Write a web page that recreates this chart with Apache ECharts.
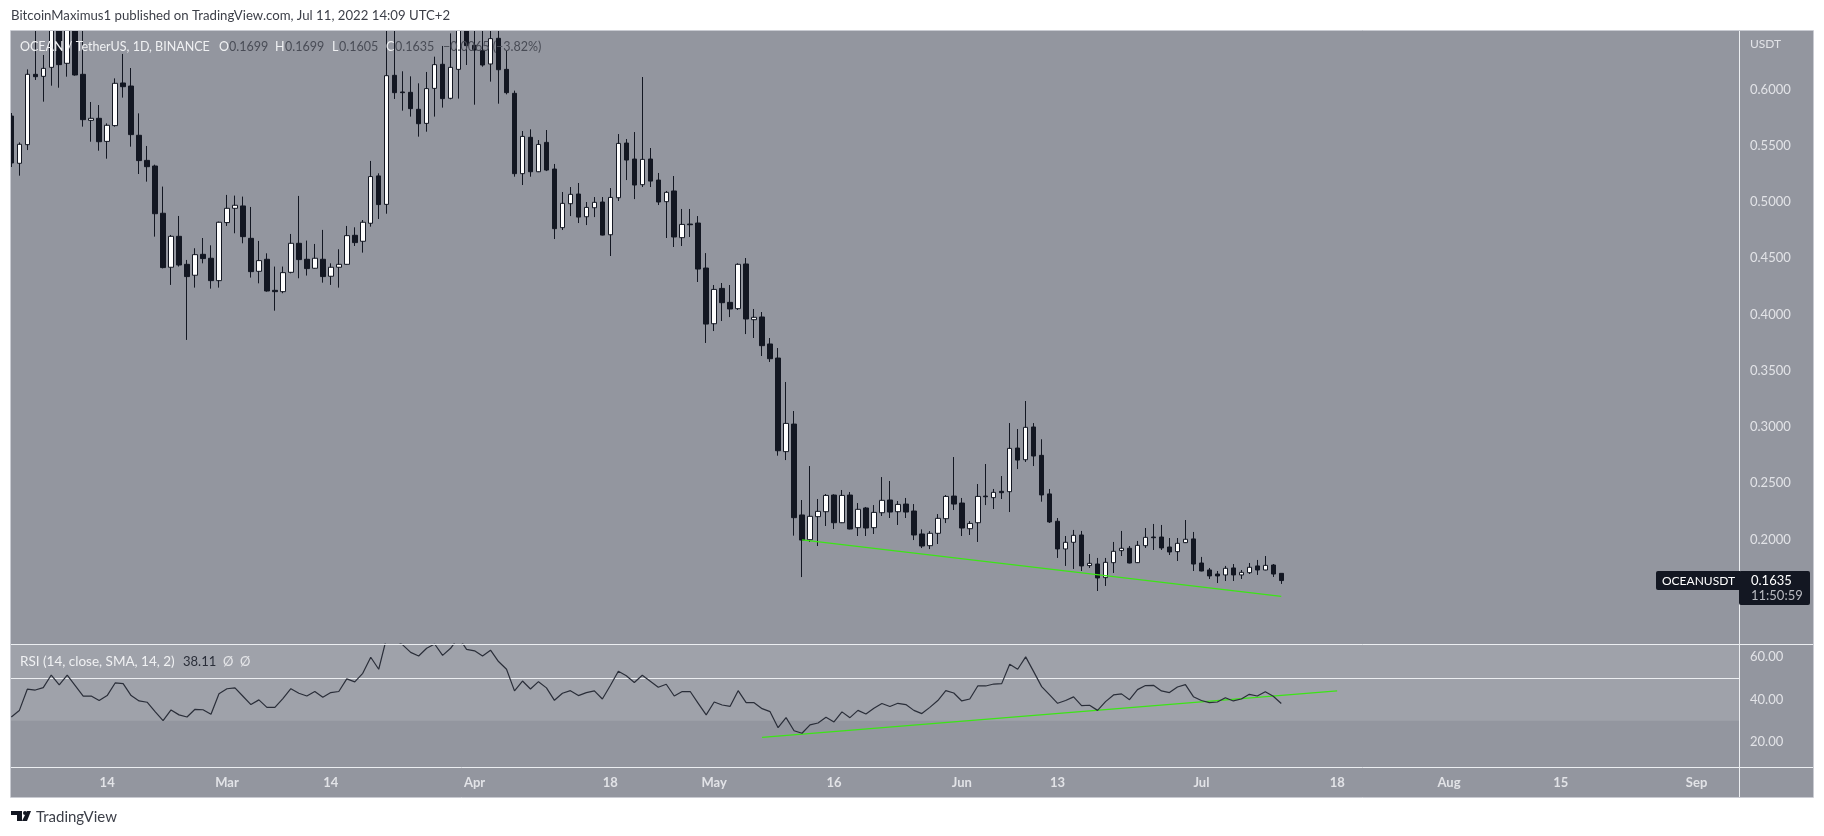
<!DOCTYPE html>
<html>

<head>
    <title>OCEANUSDT</title>
    <meta charset="utf-8">
    <script src="https://cdn.jsdelivr.net/npm/echarts@6/dist/echarts.min.js"></script>
    <style>
        html, body { margin: 0; padding: 0; background: #fff; }
    </style>
</head>

<body>
    <div id="main" style="width: 1824px;height:836px;"></div>

    <script type="text/javascript">
        // daily candles, first one is Feb 2 2022, last one Jul 11 2022
        var startDate = '2022-02-02';
        var opens = [
            .5764, .5344, .5510, .6135, .6117, .6197, .6640, .6233, .6700, .6135,
            .5726, .5744, .5539, .5679, .6058, .6031, .5593, .5370, .5320, .4900,
            .4420, .4695, .4446, .4349, .4535, .4500, .4301, .4817, .4944, .4965,
            .4677, .4384, .4491, .4215, .4203, .4375, .4633, .4491, .4411, .4491,
            .4340, .4420, .4446, .4704, .4651, .4811, .5232, .4979, .6126, .5978,
            .5975, .5824, .5699, .6010, .6224, .5922, .6179, .6560, .6393, .6345,
            .6227, .6455, .6179, .5966, .5252, .5575, .5269, .5530, .5293, .4772,
            .4985, .5071, .4869, .4949, .5000, .4709, .5038, .5524, .5382, .5154,
            .5382, .5195, .5003, .5098, .4683, .4804, .4813, .4413, .3918, .4232,
            .4108, .4052, .4449, .3954, .3978, .3738, .3613, .2781, .3026, .2218,
            .1998, .2203, .2247, .2395, .2149, .2395, .2105, .2280, .2105, .2238,
            .2351, .2247, .2315, .2253, .2049, .1945, .2055, .2185, .2386, .2324,
            .2096, .2149, .2386, .2372, .2428, .2425, .2813, .2709, .3000, .2748,
            .2405, .2162, .1916, .1975, .2040, .1768, .1782, .1661, .1794, .1901,
            .1922, .1794, .1945, .2022, .2022, .1933, .1892, .1972, .2005, .1791,
            .1729, .1693, .1685, .1747, .1685, .1705, .1765, .1729, .1773, .1699
        ];
        var closes = [
            .5347, .5513, .6135, .6114, .6188, .6640, .6221, .6700, .6129, .5732,
            .5744, .5536, .5682, .6055, .6025, .5599, .5368, .5314, .4896, .4417,
            .4695, .4440, .4337, .4532, .4497, .4301, .4820, .4944, .4971, .4692,
            .4381, .4479, .4209, .4203, .4372, .4633, .4488, .4408, .4500, .4337,
            .4420, .4446, .4701, .4639, .4820, .5226, .4977, .6123, .5972, .5972,
            .5830, .5696, .6008, .6221, .5919, .6197, .6600, .6390, .6351, .6218,
            .6452, .6176, .5972, .5252, .5583, .5269, .5512, .5284, .4763, .4988,
            .5068, .4866, .4952, .4997, .4706, .5041, .5521, .5373, .5151, .5379,
            .5186, .5000, .5086, .4689, .4801, .4798, .4404, .3915, .4223, .4105,
            .4049, .4446, .3960, .3975, .3723, .3607, .2789, .3032, .2194, .1995,
            .2206, .2250, .2392, .2149, .2392, .2093, .2268, .2102, .2241, .2348,
            .2244, .2312, .2244, .2040, .1942, .2055, .2188, .2383, .2315, .2102,
            .2143, .2383, .2380, .2419, .2416, .2810, .2706, .2997, .2742, .2396,
            .2156, .1916, .1975, .2037, .1765, .1788, .1658, .1797, .1895, .1922,
            .1791, .1948, .2019, .2016, .1925, .1889, .1966, .2002, .1782, .1720,
            .1676, .1676, .1744, .1685, .1708, .1753, .1729, .1770, .1693, .1635
        ];
        var highs = [
            .5791, .5530, .6179, .6618, .6307, .6700, .6750, .6800, .6780, .6600,
            .5889, .5862, .5699, .6099, .6316, .6191, .5788, .5498, .5332, .5137,
            .4707, .4876, .4485, .4589, .4680, .4615, .4826, .5063, .5057, .5048,
            .4956, .4654, .4544, .4426, .4426, .4716, .5054, .4657, .4627, .4752,
            .4455, .4580, .4787, .4775, .4840, .5365, .5255, .6620, .6640, .6162,
            .6117, .6055, .6156, .6292, .6387, .6499, .6700, .6660, .6620, .6580,
            .6540, .6540, .6351, .5990, .5631, .5646, .5551, .5640, .5338, .5089,
            .5133, .5169, .5000, .5044, .5044, .5124, .5604, .5560, .5622, .6111,
            .5480, .5258, .5098, .5231, .4938, .4938, .4875, .4546, .4262, .4280,
            .4262, .4455, .4502, .4049, .4022, .3791, .3702, .3400, .3142, .2351,
            .2653, .2360, .2404, .2402, .2440, .2422, .2324, .2289, .2306, .2555,
            .2520, .2342, .2369, .2315, .2090, .2075, .2226, .2395, .2733, .2369,
            .2164, .2493, .2671, .2449, .2564, .3035, .2982, .3231, .3035, .2891,
            .2449, .2191, .2031, .2085, .2076, .1871, .1836, .1836, .1978, .2076,
            .1942, .1987, .2102, .2138, .2129, .2013, .2013, .2173, .2067, .1845,
            .1747, .1720, .1765, .1782, .1729, .1791, .1818, .1853, .1782, .1699
        ];
        var lows = [
            .5311, .5234, .5462, .6085, .5892, .6034, .6016, .6114, .6123, .5670,
            .5536, .5456, .5385, .5670, .5928, .5492, .5249, .5181, .4692, .4410,
            .4263, .4426, .3774, .4239, .4455, .4230, .4239, .4787, .4722, .4633,
            .4328, .4277, .4203, .4034, .4189, .4366, .4322, .4346, .4408, .4283,
            .4263, .4239, .4443, .4609, .4550, .4781, .4849, .4896, .5916, .5812,
            .5759, .5581, .5625, .5759, .5839, .5913, .5919, .6218, .5865, .6203,
            .6070, .5874, .5957, .5225, .5151, .5225, .5266, .5275, .4671, .4751,
            .4875, .4813, .4795, .4866, .4703, .4520, .5009, .5195, .5026, .5133,
            .5133, .4973, .4680, .4600, .4609, .4689, .4289, .3747, .3853, .3942,
            .3977, .4040, .3826, .3791, .3631, .3578, .2745, .2706, .2034, .1666,
            .1978, .1942, .2120, .2093, .2146, .2090, .2031, .2031, .2049, .2209,
            .2191, .2129, .2191, .1995, .1924, .1915, .1960, .2146, .2262, .2031,
            .2040, .1978, .2306, .2271, .2360, .2244, .2626, .2689, .2653, .2336,
            .2147, .1836, .1765, .1738, .1720, .1747, .1542, .1587, .1702, .1853,
            .1788, .1791, .1925, .1907, .1907, .1862, .1809, .1969, .1720, .1717,
            .1649, .1613, .1631, .1631, .1649, .1693, .1685, .1726, .1667, .1605
        ];
        var rsi = [
            31.8, 34.8, 44.8, 44.4, 45.5, 51.4, 46.8, 51.4, 46.5, 41.6,
            41.6, 39.5, 41.8, 47.7, 47.4, 41.8, 39.3, 38.7, 34.3, 30.1,
            35.1, 32.8, 31.8, 35.4, 35.2, 33.1, 42.7, 45.0, 45.4, 41.5,
            37.6, 39.8, 36.3, 36.3, 40.4, 45.0, 42.9, 41.6, 43.7, 41.0,
            43.2, 43.7, 49.6, 48.2, 52.2, 59.7, 54.1, 69.0, 68.0, 65.5,
            62.0, 60.3, 63.9, 65.9, 60.6, 63.9, 69.0, 63.4, 62.7, 60.3,
            63.0, 57.7, 54.1, 44.0, 48.6, 44.9, 48.3, 45.4, 39.6, 42.9,
            44.1, 41.8, 43.2, 44.0, 40.2, 46.5, 53.2, 51.1, 47.9, 51.3,
            48.5, 45.7, 47.1, 41.6, 43.7, 43.7, 38.2, 32.8, 38.8, 37.4,
            36.8, 44.1, 38.5, 38.5, 35.7, 34.3, 26.8, 31.5, 25.4, 24.2,
            28.1, 29.0, 31.7, 29.5, 34.2, 31.5, 34.9, 33.2, 35.9, 38.1,
            36.7, 38.2, 37.6, 34.9, 33.4, 36.3, 39.5, 44.1, 43.0, 39.3,
            40.2, 46.3, 46.3, 47.2, 47.4, 56.4, 54.1, 59.9, 53.0, 46.0,
            42.1, 38.2, 39.5, 41.2, 37.1, 37.3, 34.9, 39.0, 42.1, 42.6,
            39.9, 44.6, 46.5, 46.6, 44.0, 43.2, 45.8, 46.9, 41.3, 39.5,
            38.5, 38.8, 40.8, 39.3, 40.2, 42.4, 41.6, 43.6, 41.5, 38.11
        ];

        // hand drawn green trendlines
        var priceTrendDates = ['2022-05-12', '2022-07-11'];
        var priceTrendValues = [.1996, .1495];
        var rsiTrendDates = ['2022-05-07', '2022-07-18'];
        var rsiTrendValues = [22.3, 44.0];

        // axis ticks
        var tickDates = ['2022-02-14', '2022-03-01', '2022-03-14', '2022-04-01', '2022-04-18', '2022-05-01', '2022-05-16',
            '2022-06-01', '2022-06-13', '2022-07-01', '2022-07-18', '2022-08-01', '2022-08-15', '2022-09-01'];
        var tickLabels = ['14', 'Mar', '14', 'Apr', '18', 'May', '16', 'Jun', '13', 'Jul', '18', 'Aug', '15', 'Sep'];
        var priceTicks = [.2, .25, .3, .35, .4, .45, .5, .55, .6];
        var rsiTicks = [20, 40, 60];

        var DAY = 86400000;
        var BG = '#93969f';
        var DARK = '#131722';
        var GREEN = '#3ce516';
        var LINE = '#eceef1';
        var FRAME = '#c9cbd2';
        var AXIS_TEXT = '#e2e3e7';
        var FONT = 'Lato, sans-serif';

        function ts(d) {
            return new Date(d).getTime();
        }

        var start = ts(startDate);
        var xMin = start - 0.04 * DAY;
        var xMax = xMin + 216.35 * DAY;

        var candleRows = opens.map(function(o, i) {
            return [start + i * DAY, o, closes[i], lows[i], highs[i]];
        });
        var rsiRows = rsi.map(function(v, i) {
            return [start + i * DAY, v];
        });

        function pairs(dates, values) {
            return dates.map(function(d, i) {
                return [ts(d), values[i]];
            });
        }

        var tickValues = tickDates.map(ts);

        function text(str, x, y, color, size, weight) {
            return {
                type: 'text',
                z: 50,
                silent: true,
                x: x,
                y: y,
                style: {
                    text: str,
                    fill: color,
                    font: (weight || 'normal') + ' ' + (size || 13) + 'px ' + FONT,
                    verticalAlign: 'middle'
                }
            };
        }

        function rule(x1, y1, x2, y2, color) {
            return {
                type: 'line',
                z: 31,
                silent: true,
                shape: { x1: x1, y1: y1, x2: x2, y2: y2 },
                style: { stroke: color, lineWidth: 1 }
            };
        }

        // candles are only dropped when fully outside the grid, so their cut ends are covered
        function mask(x, y, w, h) {
            return {
                type: 'rect',
                z: 30,
                silent: true,
                shape: { x: x, y: y, width: w, height: h },
                style: { fill: '#ffffff' }
            };
        }

        var myChart = echarts.init(document.getElementById('main'));

        var option = {
            animation: false,
            backgroundColor: '#ffffff',
            textStyle: { fontFamily: FONT },
            grid: [
                { left: 11, right: 85, top: 30, height: 614 },
                { left: 11, right: 85, top: 644, height: 123 }
            ],
            xAxis: [{
                type: 'value',
                gridIndex: 0,
                min: xMin,
                max: xMax,
                axisLine: { show: false },
                axisTick: { show: false },
                axisLabel: { show: false },
                splitLine: { show: false }
            }, {
                type: 'value',
                gridIndex: 1,
                min: xMin,
                max: xMax,
                axisLine: { show: false },
                axisTick: { show: false },
                splitLine: { show: false },
                axisLabel: {
                    customValues: tickValues,
                    color: AXIS_TEXT,
                    fontSize: 13,
                    fontWeight: 'bold',
                    margin: 9,
                    hideOverlap: false,
                    formatter: function(v) {
                        return tickLabels[tickValues.indexOf(v)];
                    }
                }
            }],
            yAxis: [{
                type: 'value',
                gridIndex: 0,
                position: 'right',
                min: 0.1071,
                max: 0.6529,
                axisLine: { show: false },
                axisTick: { show: false },
                splitLine: { show: false },
                axisLabel: {
                    customValues: priceTicks,
                    color: AXIS_TEXT,
                    fontSize: 13,
                    margin: 11,
                    align: 'left',
                    padding: [2, 0, 0, 0],
                    formatter: function(v) {
                        return v.toFixed(4);
                    }
                }
            }, {
                type: 'value',
                gridIndex: 1,
                position: 'right',
                min: 8.45,
                max: 65.9,
                axisLine: { show: false },
                axisTick: { show: false },
                splitLine: { show: false },
                axisLabel: {
                    customValues: rsiTicks,
                    color: AXIS_TEXT,
                    fontSize: 13,
                    margin: 11,
                    align: 'left',
                    padding: [2, 0, 0, 0],
                    formatter: function(v) {
                        return v.toFixed(2);
                    }
                }
            }],
            series: [{
                name: 'OCEANUSDT',
                type: 'candlestick',
                xAxisIndex: 0,
                yAxisIndex: 0,
                barWidth: 5,
                encode: { x: 0, y: [1, 2, 3, 4] },
                itemStyle: {
                    color: '#ffffff',
                    color0: DARK,
                    borderColor: DARK,
                    borderColor0: DARK,
                    borderWidth: 1
                },
                data: candleRows
            }, {
                name: 'Price trend',
                type: 'line',
                xAxisIndex: 0,
                yAxisIndex: 0,
                symbol: 'none',
                z: 5,
                lineStyle: { color: GREEN, width: 1.3 },
                data: pairs(priceTrendDates, priceTrendValues)
            }, {
                name: 'RSI',
                type: 'line',
                xAxisIndex: 1,
                yAxisIndex: 1,
                symbol: 'none',
                z: 4,
                lineStyle: { color: '#2a2e39', width: 1.2 },
                data: rsiRows,
                markArea: {
                    silent: true,
                    z: 1,
                    itemStyle: { color: '#9fa2aa' },
                    data: [[{ yAxis: 30 }, { yAxis: 65.9 }]]
                },
                markLine: {
                    silent: true,
                    symbol: 'none',
                    z: 2,
                    label: { show: false },
                    lineStyle: { color: LINE, width: 1, type: 'solid' },
                    data: [{ yAxis: 50 }]
                }
            }, {
                name: 'RSI trend',
                type: 'line',
                xAxisIndex: 1,
                yAxisIndex: 1,
                symbol: 'none',
                z: 3,
                lineStyle: { color: GREEN, width: 1.3 },
                data: pairs(rsiTrendDates, rsiTrendValues)
            }],
            graphic: [
                // pane background
                { type: 'rect', z: -10, silent: true, shape: { x: 11, y: 30, width: 1802, height: 767 },
                    style: { fill: BG } },
                mask(0, 0, 1824, 30),
                mask(0, 0, 11, 836),

                // frame and pane separators
                rule(10.5, 30.5, 1813.5, 30.5, FRAME),
                rule(10.5, 30.5, 10.5, 797.5, FRAME),
                rule(1813.5, 30.5, 1813.5, 797.5, FRAME),
                rule(10.5, 797.5, 1813.5, 797.5, FRAME),
                rule(11, 644.5, 1813, 644.5, LINE),
                rule(11, 767.5, 1813, 767.5, LINE),
                rule(1739.5, 31, 1739.5, 797, LINE),

                text('BitcoinMaximus1 published on TradingView.com, Jul 11, 2022 14:09 UTC+2', 11, 16, '#3c3f48', 13.2),

                // legend of the price pane
                text('OCEAN / TetherUS, 1D, BINANCE', 20, 47, '#f0f1f3', 12.5),
                text('O', 219, 47, '#f0f1f3', 12.5),
                text('0.1699', 229, 47, '#494c56', 12.5),
                text('H', 275, 47, '#f0f1f3', 12.5),
                text('0.1699', 285, 47, '#494c56', 12.5),
                text('L', 332, 47, '#f0f1f3', 12.5),
                text('0.1605', 339, 47, '#494c56', 12.5),
                text('C', 386, 47, '#f0f1f3', 12.5),
                text('0.1635', 395, 47, '#494c56', 12.5),
                text('\u22120.0065 (\u22123.82%)', 443, 47, '#494c56', 12.5),

                // legend of the RSI pane
                text('RSI (14, close, SMA, 14, 2)', 20, 662, '#f0f1f3', 13.5),
                text('38.11', 183, 662, '#2a2e39', 13),
                text('\u00d8', 223, 662, '#e4e5e8', 13),
                text('\u00d8', 240, 662, '#e4e5e8', 13),

                text('USDT', 1750, 44, AXIS_TEXT, 12),

                // last price tag
                { type: 'rect', z: 40, silent: true, shape: { x: 1656, y: 571, width: 84, height: 19, r: [2, 0, 0, 2] },
                    style: { fill: DARK } },
                { type: 'rect', z: 40, silent: true, shape: { x: 1739, y: 571, width: 71, height: 34, r: 2 },
                    style: { fill: DARK } },
                text('OCEANUSDT', 1662, 581, '#ffffff', 12),
                text('0.1635', 1751, 581, '#ffffff', 13),
                text('11:50:59', 1751, 596, '#b8bac0', 13),

                // TradingView mark and name at the bottom
                { type: 'polygon', z: 50, silent: true,
                    shape: { points: [[11, 811], [22, 811], [22, 821], [17, 821], [17, 815], [11, 815]] },
                    style: { fill: '#131722' } },
                { type: 'circle', z: 50, silent: true, shape: { cx: 25, cy: 813, r: 2 }, style: { fill: '#131722' } },
                { type: 'polygon', z: 50, silent: true,
                    shape: { points: [[27, 811], [31, 811], [27, 821], [22, 821]] },
                    style: { fill: '#131722' } },
                text('TradingView', 36, 817, '#3c3f48', 15)
            ]
        };

        myChart.setOption(option);
    </script>
</body>

</html>
